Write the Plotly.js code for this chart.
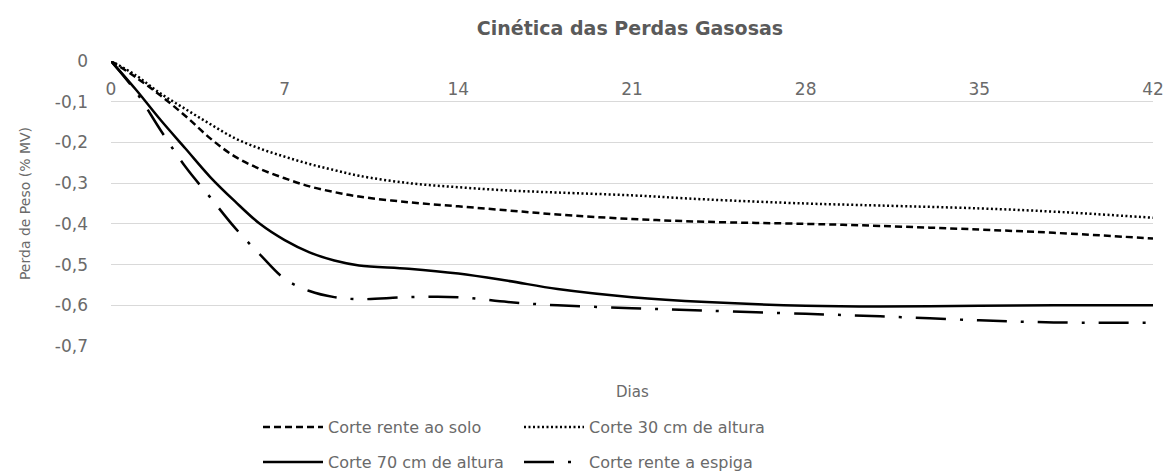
<!DOCTYPE html>
<html>
<head>
<meta charset="utf-8">
<script src="https://cdn.plot.ly/plotly-3.0.1.min.js"></script>
<style>html,body{margin:0;padding:0;background:#fff;}#chart{width:1168px;height:475px;}</style>
</head>
<body>
<div id="chart"></div>
<script>
var days = [0,1,2,3,4,5,6,7,8,9,10,12,14,16,18,21,24,28,31,35,38,42];
var corteSolo   = [0,-0.040,-0.085,-0.135,-0.190,-0.235,-0.265,-0.288,-0.308,-0.322,-0.333,-0.347,-0.357,-0.367,-0.377,-0.388,-0.395,-0.400,-0.405,-0.414,-0.422,-0.436];
var corte30     = [0,-0.035,-0.080,-0.118,-0.155,-0.190,-0.215,-0.235,-0.253,-0.268,-0.282,-0.300,-0.310,-0.318,-0.323,-0.330,-0.340,-0.350,-0.355,-0.362,-0.370,-0.385];
var corte70     = [0,-0.070,-0.145,-0.215,-0.285,-0.345,-0.400,-0.440,-0.470,-0.490,-0.502,-0.510,-0.522,-0.540,-0.560,-0.580,-0.592,-0.601,-0.603,-0.601,-0.600,-0.600];
var corteEspiga = [0,-0.075,-0.170,-0.260,-0.335,-0.410,-0.475,-0.535,-0.565,-0.580,-0.585,-0.580,-0.580,-0.592,-0.600,-0.607,-0.613,-0.621,-0.627,-0.637,-0.642,-0.643];
var seriesNames = ["Corte rente ao solo","Corte 30 cm de altura","Corte 70 cm de altura","Corte rente a espiga"];
var xTickVals = [0,7,14,21,28,35,42];
var xTickText = ["0","7","14","21","28","35","42"];
var yTickVals = [0,-0.1,-0.2,-0.3,-0.4,-0.5,-0.6,-0.7];
var yTickText = ["0","-0,1","-0,2","-0,3","-0,4","-0,5","-0,6","-0,7"];

var FONT = "DejaVu Sans, sans-serif";
var TXT = "#6a6a6a";

function tr(y, name, dash, legend) {
  return {x: days, y: y, name: name, type: "scatter", mode: "lines",
    line: {color: "#000", width: 2.5, dash: dash, shape: "spline", smoothing: 1},
    legend: legend, hoverinfo: "skip", cliponaxis: false};
}
var data = [
  tr(corteSolo, seriesNames[0], "7px,4px", "legend"),
  tr(corte30, seriesNames[1], "2px,2.5px", "legend"),
  tr(corte70, seriesNames[2], "solid", "legend2"),
  tr(corteEspiga, seriesNames[3], "30px,14px,3px,14px", "legend2")
];
var legendCommon = {orientation: "h", xref: "container", yref: "container", xanchor: "left", yanchor: "middle",
  font: {family: FONT, size: 16, color: TXT}, entrywidth: 186, entrywidthmode: "pixels", itemwidth: 60,
  bgcolor: "rgba(0,0,0,0)", tracegroupgap: 0};
var layout = {
  width: 1168, height: 475,
  margin: {l: 111, r: 15, t: 61, b: 129},
  paper_bgcolor: "#fff", plot_bgcolor: "#fff",
  font: {family: FONT, color: TXT},
  title: {text: "Cinética das Perdas Gasosas", x: 630/1168, xanchor: "center", y: 1 - 28/475, yanchor: "middle",
    yref: "container", xref: "container", font: {family: FONT, size: 19, color: "#5a5a5a", weight: "bold"}},
  xaxis: {range: [0, 42], anchor: "free", position: 1, side: "bottom", showgrid: false, zeroline: false, showline: false,
    tickvals: xTickVals, ticktext: xTickText, ticks: "", ticklabelstandoff: 16,
    tickfont: {family: FONT, size: 17, color: TXT}, fixedrange: true},
  yaxis: {range: [-0.7, 0], showgrid: true, gridcolor: "#d9d9d9", gridwidth: 1, zeroline: false, showline: false,
    tickvals: yTickVals, ticktext: yTickText, ticks: "", ticklabelstandoff: 22,
    tickfont: {family: FONT, size: 17, color: TXT},
    title: {text: "Perda de Peso (% MV)", standoff: 20, font: {family: FONT, size: 14, color: TXT}}, fixedrange: true},
  legend: Object.assign({x: 258/1168, y: 1 - 427/475}, legendCommon),
  legend2: Object.assign({x: 258/1168, y: 1 - 462/475}, legendCommon),
  annotations: [{text: "Dias", xref: "paper", yref: "paper", x: 0.5, y: -46/285, yanchor: "middle",
    showarrow: false, font: {family: FONT, size: 15, color: TXT}}],
  showlegend: true
};
Plotly.newPlot("chart", data, layout, {displayModeBar: false, staticPlot: true});
</script>
</body>
</html>
